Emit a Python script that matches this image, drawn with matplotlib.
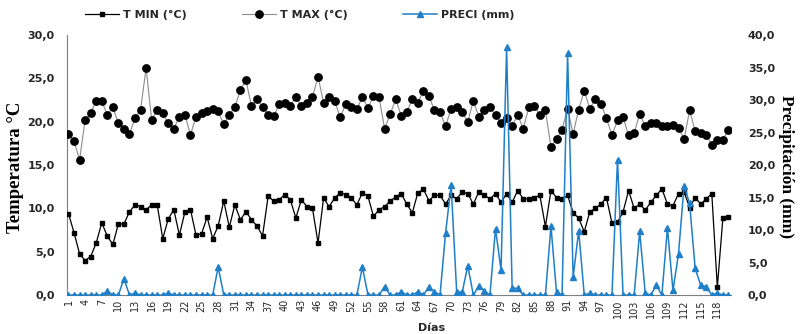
import matplotlib
matplotlib.use("Agg")
import matplotlib.pyplot as plt
from matplotlib.ticker import FuncFormatter, FixedLocator

days = list(range(1, 121))

tmin = [9.4, 7.2, 4.75, 3.98, 4.44, 6.0, 8.34, 6.8, 5.83, 8.2,
        8.2, 9.6, 10.4, 10.2, 9.85, 10.4, 10.4, 6.5, 8.8, 9.85,
        6.9, 9.6, 9.85, 6.9, 7.07, 9.0, 6.5, 8.0, 10.85, 7.84,
        10.4, 8.7, 9.6, 8.7, 7.95, 6.83, 11.4, 10.85, 11.0, 11.6,
        11.0, 8.9, 11.0, 10.2, 10.0, 6.0, 11.2, 10.2, 11.2, 11.8,
        11.6, 11.2, 10.4, 11.8, 11.4, 9.07, 9.85, 10.2, 10.85, 11.3,
        11.7, 10.5, 9.5, 11.8, 12.2, 10.9, 11.5, 11.5, 10.5, 11.5,
        11.1, 11.9, 11.7, 10.5, 11.9, 11.5, 11.1, 11.7, 10.7, 11.7,
        10.7, 12.05, 11.1, 11.1, 11.25, 11.5, 7.9, 12.05, 11.25, 11.1,
        11.5, 9.5, 8.86, 7.3, 9.6, 10.0, 10.5, 11.25, 8.3, 8.4,
        9.6, 12.05, 10.0, 10.5, 9.8, 10.7, 11.5, 12.25, 10.5, 10.3,
        11.7, 11.9, 10.1, 11.25, 10.5, 11.1, 11.7, 0.9, 8.86, 9.05]

tmax = [18.6, 17.8, 15.6, 20.2, 21.0, 22.4, 22.4, 20.8, 21.7, 19.8,
        19.2, 18.6, 20.4, 21.4, 26.2, 20.2, 21.4, 21.0, 19.8, 19.2,
        20.6, 20.8, 18.5, 20.6, 21.0, 21.2, 21.5, 21.2, 19.7, 20.8,
        21.7, 23.65, 24.8, 21.8, 22.6, 21.7, 20.8, 20.65, 22.0, 22.2,
        21.85, 22.85, 21.85, 22.2, 22.85, 25.2, 22.2, 22.85, 22.4, 20.5,
        22.05, 21.7, 21.45, 22.85, 21.6, 23.0, 22.85, 19.2, 20.85, 22.6,
        20.7, 21.1, 22.6, 22.2, 23.6, 23.0, 21.3, 21.1, 19.5, 21.5,
        21.65, 21.1, 20.0, 22.4, 20.6, 21.3, 21.65, 20.8, 19.85, 20.4,
        19.5, 20.8, 19.2, 21.65, 21.85, 20.8, 21.3, 17.1, 18.0, 19.1,
        21.5, 18.6, 21.4, 23.6, 21.5, 22.6, 22.1, 20.4, 18.45, 20.15,
        20.5, 18.45, 18.7, 20.9, 19.5, 19.85, 19.85, 19.5, 19.5, 19.65,
        19.3, 18.0, 21.3, 18.95, 18.7, 18.5, 17.3, 17.9, 17.9, 19.1]

preci = [0, 0, 0, 0, 0, 0, 0, 0.6, 0, 0,
         2.5, 0, 0.3, 0, 0, 0, 0, 0, 0.3, 0,
         0, 0, 0, 0, 0, 0, 0, 4.3, 0, 0,
         0, 0, 0, 0, 0, 0, 0, 0, 0, 0,
         0, 0, 0, 0, 0, 0, 0, 0, 0, 0,
         0, 0, 0, 4.3, 0, 0, 0, 1.3, 0, 0,
         0.5, 0, 0, 0.5, 0, 1.25, 0.5, 0, 9.6, 16.9,
         0.45, 0.45, 4.5, 0, 1.4, 0.6, 0, 10.2, 3.8, 38.1,
         1.1, 1.0, 0, 0, 0, 0, 0, 10.6, 0.4, 0,
         37.2, 2.75, 9.9, 0, 0.25, 0, 0, 0, 0, 20.85,
         0, 0, 0, 9.8, 0.25, 0, 1.5, 0, 10.3, 0.7,
         6.35, 16.8, 14.1, 4.1, 1.5, 1.3, 0, 0.3, 0, 0]

xticks = list(range(1, 121, 3))
series_labels = ["T MIN (°C)", "T MAX (°C)", "PRECI (mm)"]

blue = "#1f7fc8"
txtc = "#262626"

fig = plt.figure(figsize=(8.0, 3.34), dpi=100)
ax = fig.add_axes([0.084, 0.1168, 0.83, 0.778])
ax2 = ax.twinx()

l1, = ax.plot(days, tmin, color="black", lw=0.9, marker="s", ms=3.2,
              mfc="black", mec="black", zorder=3)
l2, = ax.plot(days, tmax, color="#8c8c8c", lw=0.8, marker="o", ms=5.3,
              mfc="black", mec="black", zorder=3)
l3, = ax2.plot(days, preci, color=blue, lw=1.1, marker="^", ms=4.2,
               mfc=blue, mec=blue, zorder=4)

ax.set_xlim(0.77, 120.5)
ax.set_ylim(0, 30)
ax2.set_ylim(0, 40)
ax.set_yticks([0, 5, 10, 15, 20, 25, 30])
ax2.set_yticks([0, 5, 10, 15, 20, 25, 30, 35, 40])
fmt = FuncFormatter(lambda v, p: f"{v:.1f}".replace(".", ","))
ax.yaxis.set_major_formatter(fmt)
ax2.yaxis.set_major_formatter(fmt)
ax.xaxis.set_major_locator(FixedLocator(xticks))
ax.set_xticklabels([str(d) for d in xticks], rotation=90, fontsize=7,
                   color=txtc, family="DejaVu Sans")

for a in (ax, ax2):
    for s in ("top", "right", "left", "bottom"):
        a.spines[s].set_visible(False)
ax.spines["left"].set_visible(True)
ax.spines["left"].set_color("#7f7f7f")
ax.spines["bottom"].set_visible(True)
ax.spines["bottom"].set_color("#7f7f7f")

ax.tick_params(axis="y", length=0, pad=9, labelsize=8, labelcolor=txtc)
ax2.tick_params(axis="y", length=0, pad=12, labelsize=8, labelcolor=txtc)
ax.tick_params(axis="x", length=0, pad=3)
for lab in ax.get_yticklabels() + ax2.get_yticklabels():
    lab.set_fontweight("bold")

fig.text(0.019, 0.50, "Temperatura °C", rotation=90, ha="center", va="center",
         family="Liberation Serif", fontweight="bold", fontsize=13.5, color="black")
fig.text(0.982, 0.50, "Precipitación (mm)", rotation=270, ha="center", va="center",
         family="Liberation Serif", fontweight="bold", fontsize=12.5, color="black")
fig.text(0.54, 0.018, "Días", ha="center", va="center", fontsize=8,
         fontweight="bold", color=txtc)

leg = fig.legend([l1, l2, l3], series_labels, loc="center",
                 bbox_to_anchor=(0.375, 0.955), ncol=3, frameon=False,
                 columnspacing=5.0, handlelength=3.0, handletextpad=0.4,
                 prop={"size": 8, "weight": "bold"})
for t in leg.get_texts():
    t.set_color(txtc)

fig.savefig("out.png", dpi=100)
